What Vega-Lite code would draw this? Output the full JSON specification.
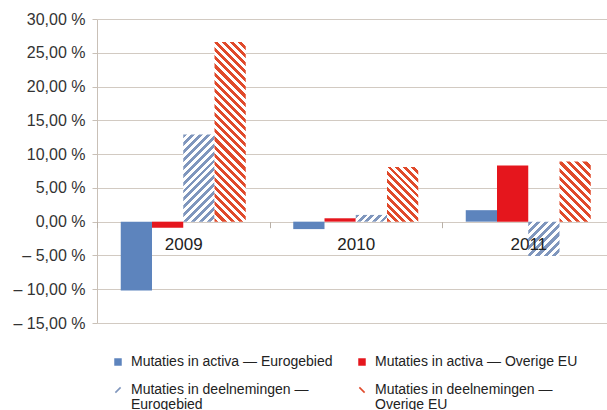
{
  "$schema": "https://vega.github.io/schema/vega-lite/v6.json",
  "width": 517.5,
  "height": 304,
  "autosize": {"type": "none"},
  "padding": {"left": 97, "top": 19, "right": 0, "bottom": 87},
  "background": "white",
  "config": {"font": "Liberation Sans", "view": {"stroke": null}},
  "data": {"values": [
    {"year": "2009", "series": "Mutaties in activa — Eurogebied", "value": -10.2},
    {"year": "2009", "series": "Mutaties in activa — Overige EU", "value": -0.9},
    {"year": "2009", "series": "Mutaties in deelnemingen — Eurogebied", "value": 12.9},
    {"year": "2009", "series": "Mutaties in deelnemingen — Overige EU", "value": 26.6},
    {"year": "2010", "series": "Mutaties in activa — Eurogebied", "value": -1.1},
    {"year": "2010", "series": "Mutaties in activa — Overige EU", "value": 0.5},
    {"year": "2010", "series": "Mutaties in deelnemingen — Eurogebied", "value": 1.0},
    {"year": "2010", "series": "Mutaties in deelnemingen — Overige EU", "value": 8.1},
    {"year": "2011", "series": "Mutaties in activa — Eurogebied", "value": 1.7},
    {"year": "2011", "series": "Mutaties in activa — Overige EU", "value": 8.3},
    {"year": "2011", "series": "Mutaties in deelnemingen — Eurogebied", "value": -5.1},
    {"year": "2011", "series": "Mutaties in deelnemingen — Overige EU", "value": 8.9}
  ]},
  "mark": {"type": "bar"},
  "encoding": {
    "x": {
      "field": "year", "type": "nominal",
      "scale": {"paddingInner": 0, "paddingOuter": 0},
      "axis": {"orient": "bottom", "offset": -101.33, "zindex": 1, "domain": false, "grid": false, "ticks": true, "tickBand": "extent", "tickSize": 6, "tickColor": "#b9b0a6", "labelAngle": 0, "labelFontSize": 17, "labelPadding": 9, "labelColor": "#222222", "title": null}
    },
    "xOffset": {
      "field": "series", "type": "nominal",
      "scale": {"domain": ["Mutaties in activa — Eurogebied", "Mutaties in activa — Overige EU", "Mutaties in deelnemingen — Eurogebied", "Mutaties in deelnemingen — Overige EU"], "paddingInner": 0, "paddingOuter": 0.76}
    },
    "y": {
      "field": "value", "type": "quantitative",
      "scale": {"domain": [-15, 30], "nice": false, "zero": false},
      "axis": {"values": [-15, -10, -5, 0, 5, 10, 15, 20, 25, 30], "labelExpr": "(datum.value < 0 ? '– ' : '') + replace(format(abs(datum.value), '.2f'), '.', ',') + ' %'", "title": null, "labelFontSize": 16, "labelColor": "#333333", "tickSize": 5, "tickColor": "#c9c0b7", "domainColor": "#c9c0b7", "gridColor": "#d2cac2", "labelPadding": 7, "grid": true}
    },
    "fill": {
      "condition": [
        {"test": "datum.series === 'Mutaties in deelnemingen — Eurogebied' && datum.year === '2009'",
         "value": {"gradient": "linear", "x1": 0, "y1": 0, "x2": 0.4317, "y2": 1.2038, "stops": [
          {"offset": 0, "color": "#7f96bd"}, {"offset": 0.0333, "color": "#7f96bd"}, {"offset": 0.0333, "color": "#ffffff"}, {"offset": 0.0667, "color": "#ffffff"},
          {"offset": 0.0667, "color": "#7f96bd"}, {"offset": 0.1, "color": "#7f96bd"}, {"offset": 0.1, "color": "#ffffff"}, {"offset": 0.1333, "color": "#ffffff"},
          {"offset": 0.1333, "color": "#7f96bd"}, {"offset": 0.1667, "color": "#7f96bd"}, {"offset": 0.1667, "color": "#ffffff"}, {"offset": 0.2, "color": "#ffffff"},
          {"offset": 0.2, "color": "#7f96bd"}, {"offset": 0.2333, "color": "#7f96bd"}, {"offset": 0.2333, "color": "#ffffff"}, {"offset": 0.2667, "color": "#ffffff"},
          {"offset": 0.2667, "color": "#7f96bd"}, {"offset": 0.3, "color": "#7f96bd"}, {"offset": 0.3, "color": "#ffffff"}, {"offset": 0.3333, "color": "#ffffff"},
          {"offset": 0.3333, "color": "#7f96bd"}, {"offset": 0.3667, "color": "#7f96bd"}, {"offset": 0.3667, "color": "#ffffff"}, {"offset": 0.4, "color": "#ffffff"},
          {"offset": 0.4, "color": "#7f96bd"}, {"offset": 0.4333, "color": "#7f96bd"}, {"offset": 0.4333, "color": "#ffffff"}, {"offset": 0.4667, "color": "#ffffff"},
          {"offset": 0.4667, "color": "#7f96bd"}, {"offset": 0.5, "color": "#7f96bd"}, {"offset": 0.5, "color": "#ffffff"}, {"offset": 0.5333, "color": "#ffffff"},
          {"offset": 0.5333, "color": "#7f96bd"}, {"offset": 0.5667, "color": "#7f96bd"}, {"offset": 0.5667, "color": "#ffffff"}, {"offset": 0.6, "color": "#ffffff"},
          {"offset": 0.6, "color": "#7f96bd"}, {"offset": 0.6333, "color": "#7f96bd"}, {"offset": 0.6333, "color": "#ffffff"}, {"offset": 0.6667, "color": "#ffffff"},
          {"offset": 0.6667, "color": "#7f96bd"}, {"offset": 0.7, "color": "#7f96bd"}, {"offset": 0.7, "color": "#ffffff"}, {"offset": 0.7333, "color": "#ffffff"},
          {"offset": 0.7333, "color": "#7f96bd"}, {"offset": 0.7667, "color": "#7f96bd"}, {"offset": 0.7667, "color": "#ffffff"}, {"offset": 0.8, "color": "#ffffff"},
          {"offset": 0.8, "color": "#7f96bd"}, {"offset": 0.8333, "color": "#7f96bd"}, {"offset": 0.8333, "color": "#ffffff"}, {"offset": 0.8667, "color": "#ffffff"},
          {"offset": 0.8667, "color": "#7f96bd"}, {"offset": 0.9, "color": "#7f96bd"}, {"offset": 0.9, "color": "#ffffff"}, {"offset": 0.9333, "color": "#ffffff"},
          {"offset": 0.9333, "color": "#7f96bd"}, {"offset": 0.9667, "color": "#7f96bd"}, {"offset": 0.9667, "color": "#ffffff"}, {"offset": 1, "color": "#ffffff"}
         ]}},
        {"test": "datum.series === 'Mutaties in deelnemingen — Eurogebied' && datum.year === '2010'",
         "value": {"gradient": "linear", "x1": 0, "y1": 0, "x2": 1.1619, "y2": 0.2513, "stops": [
          {"offset": 0, "color": "#7f96bd"}, {"offset": 0.1, "color": "#7f96bd"}, {"offset": 0.1, "color": "#ffffff"}, {"offset": 0.2, "color": "#ffffff"},
          {"offset": 0.2, "color": "#7f96bd"}, {"offset": 0.3, "color": "#7f96bd"}, {"offset": 0.3, "color": "#ffffff"}, {"offset": 0.4, "color": "#ffffff"},
          {"offset": 0.4, "color": "#7f96bd"}, {"offset": 0.5, "color": "#7f96bd"}, {"offset": 0.5, "color": "#ffffff"}, {"offset": 0.6, "color": "#ffffff"},
          {"offset": 0.6, "color": "#7f96bd"}, {"offset": 0.7, "color": "#7f96bd"}, {"offset": 0.7, "color": "#ffffff"}, {"offset": 0.8, "color": "#ffffff"},
          {"offset": 0.8, "color": "#7f96bd"}, {"offset": 0.9, "color": "#7f96bd"}, {"offset": 0.9, "color": "#ffffff"}, {"offset": 1, "color": "#ffffff"}
         ]}},
        {"test": "datum.series === 'Mutaties in deelnemingen — Eurogebied' && datum.year === '2011'",
         "value": {"gradient": "linear", "x1": 0, "y1": 0, "x2": 0.949, "y2": 1.0462, "stops": [
          {"offset": 0, "color": "#7f96bd"}, {"offset": 0.0625, "color": "#7f96bd"}, {"offset": 0.0625, "color": "#ffffff"}, {"offset": 0.125, "color": "#ffffff"},
          {"offset": 0.125, "color": "#7f96bd"}, {"offset": 0.1875, "color": "#7f96bd"}, {"offset": 0.1875, "color": "#ffffff"}, {"offset": 0.25, "color": "#ffffff"},
          {"offset": 0.25, "color": "#7f96bd"}, {"offset": 0.3125, "color": "#7f96bd"}, {"offset": 0.3125, "color": "#ffffff"}, {"offset": 0.375, "color": "#ffffff"},
          {"offset": 0.375, "color": "#7f96bd"}, {"offset": 0.4375, "color": "#7f96bd"}, {"offset": 0.4375, "color": "#ffffff"}, {"offset": 0.5, "color": "#ffffff"},
          {"offset": 0.5, "color": "#7f96bd"}, {"offset": 0.5625, "color": "#7f96bd"}, {"offset": 0.5625, "color": "#ffffff"}, {"offset": 0.625, "color": "#ffffff"},
          {"offset": 0.625, "color": "#7f96bd"}, {"offset": 0.6875, "color": "#7f96bd"}, {"offset": 0.6875, "color": "#ffffff"}, {"offset": 0.75, "color": "#ffffff"},
          {"offset": 0.75, "color": "#7f96bd"}, {"offset": 0.8125, "color": "#7f96bd"}, {"offset": 0.8125, "color": "#ffffff"}, {"offset": 0.875, "color": "#ffffff"},
          {"offset": 0.875, "color": "#7f96bd"}, {"offset": 0.9375, "color": "#7f96bd"}, {"offset": 0.9375, "color": "#ffffff"}, {"offset": 1, "color": "#ffffff"}
         ]}},
        {"test": "datum.series === 'Mutaties in deelnemingen — Overige EU' && datum.year === '2009'",
         "value": {"gradient": "linear", "x1": 0, "y1": 1, "x2": 0.19815, "y2": -0.13944, "stops": [
          {"offset": 0, "color": "#e04a2b"}, {"offset": 0.0192, "color": "#e04a2b"}, {"offset": 0.0192, "color": "#ffffff"}, {"offset": 0.0385, "color": "#ffffff"},
          {"offset": 0.0385, "color": "#e04a2b"}, {"offset": 0.0577, "color": "#e04a2b"}, {"offset": 0.0577, "color": "#ffffff"}, {"offset": 0.0769, "color": "#ffffff"},
          {"offset": 0.0769, "color": "#e04a2b"}, {"offset": 0.0962, "color": "#e04a2b"}, {"offset": 0.0962, "color": "#ffffff"}, {"offset": 0.1154, "color": "#ffffff"},
          {"offset": 0.1154, "color": "#e04a2b"}, {"offset": 0.1346, "color": "#e04a2b"}, {"offset": 0.1346, "color": "#ffffff"}, {"offset": 0.1538, "color": "#ffffff"},
          {"offset": 0.1538, "color": "#e04a2b"}, {"offset": 0.1731, "color": "#e04a2b"}, {"offset": 0.1731, "color": "#ffffff"}, {"offset": 0.1923, "color": "#ffffff"},
          {"offset": 0.1923, "color": "#e04a2b"}, {"offset": 0.2115, "color": "#e04a2b"}, {"offset": 0.2115, "color": "#ffffff"}, {"offset": 0.2308, "color": "#ffffff"},
          {"offset": 0.2308, "color": "#e04a2b"}, {"offset": 0.25, "color": "#e04a2b"}, {"offset": 0.25, "color": "#ffffff"}, {"offset": 0.2692, "color": "#ffffff"},
          {"offset": 0.2692, "color": "#e04a2b"}, {"offset": 0.2885, "color": "#e04a2b"}, {"offset": 0.2885, "color": "#ffffff"}, {"offset": 0.3077, "color": "#ffffff"},
          {"offset": 0.3077, "color": "#e04a2b"}, {"offset": 0.3269, "color": "#e04a2b"}, {"offset": 0.3269, "color": "#ffffff"}, {"offset": 0.3462, "color": "#ffffff"},
          {"offset": 0.3462, "color": "#e04a2b"}, {"offset": 0.3654, "color": "#e04a2b"}, {"offset": 0.3654, "color": "#ffffff"}, {"offset": 0.3846, "color": "#ffffff"},
          {"offset": 0.3846, "color": "#e04a2b"}, {"offset": 0.4038, "color": "#e04a2b"}, {"offset": 0.4038, "color": "#ffffff"}, {"offset": 0.4231, "color": "#ffffff"},
          {"offset": 0.4231, "color": "#e04a2b"}, {"offset": 0.4423, "color": "#e04a2b"}, {"offset": 0.4423, "color": "#ffffff"}, {"offset": 0.4615, "color": "#ffffff"},
          {"offset": 0.4615, "color": "#e04a2b"}, {"offset": 0.4808, "color": "#e04a2b"}, {"offset": 0.4808, "color": "#ffffff"}, {"offset": 0.5, "color": "#ffffff"},
          {"offset": 0.5, "color": "#e04a2b"}, {"offset": 0.5192, "color": "#e04a2b"}, {"offset": 0.5192, "color": "#ffffff"}, {"offset": 0.5385, "color": "#ffffff"},
          {"offset": 0.5385, "color": "#e04a2b"}, {"offset": 0.5577, "color": "#e04a2b"}, {"offset": 0.5577, "color": "#ffffff"}, {"offset": 0.5769, "color": "#ffffff"},
          {"offset": 0.5769, "color": "#e04a2b"}, {"offset": 0.5962, "color": "#e04a2b"}, {"offset": 0.5962, "color": "#ffffff"}, {"offset": 0.6154, "color": "#ffffff"},
          {"offset": 0.6154, "color": "#e04a2b"}, {"offset": 0.6346, "color": "#e04a2b"}, {"offset": 0.6346, "color": "#ffffff"}, {"offset": 0.6538, "color": "#ffffff"},
          {"offset": 0.6538, "color": "#e04a2b"}, {"offset": 0.6731, "color": "#e04a2b"}, {"offset": 0.6731, "color": "#ffffff"}, {"offset": 0.6923, "color": "#ffffff"},
          {"offset": 0.6923, "color": "#e04a2b"}, {"offset": 0.7115, "color": "#e04a2b"}, {"offset": 0.7115, "color": "#ffffff"}, {"offset": 0.7308, "color": "#ffffff"},
          {"offset": 0.7308, "color": "#e04a2b"}, {"offset": 0.75, "color": "#e04a2b"}, {"offset": 0.75, "color": "#ffffff"}, {"offset": 0.7692, "color": "#ffffff"},
          {"offset": 0.7692, "color": "#e04a2b"}, {"offset": 0.7885, "color": "#e04a2b"}, {"offset": 0.7885, "color": "#ffffff"}, {"offset": 0.8077, "color": "#ffffff"},
          {"offset": 0.8077, "color": "#e04a2b"}, {"offset": 0.8269, "color": "#e04a2b"}, {"offset": 0.8269, "color": "#ffffff"}, {"offset": 0.8462, "color": "#ffffff"},
          {"offset": 0.8462, "color": "#e04a2b"}, {"offset": 0.8654, "color": "#e04a2b"}, {"offset": 0.8654, "color": "#ffffff"}, {"offset": 0.8846, "color": "#ffffff"},
          {"offset": 0.8846, "color": "#e04a2b"}, {"offset": 0.9038, "color": "#e04a2b"}, {"offset": 0.9038, "color": "#ffffff"}, {"offset": 0.9231, "color": "#ffffff"},
          {"offset": 0.9231, "color": "#e04a2b"}, {"offset": 0.9423, "color": "#e04a2b"}, {"offset": 0.9423, "color": "#ffffff"}, {"offset": 0.9615, "color": "#ffffff"},
          {"offset": 0.9615, "color": "#e04a2b"}, {"offset": 0.9808, "color": "#e04a2b"}, {"offset": 0.9808, "color": "#ffffff"}, {"offset": 1, "color": "#ffffff"}
         ]}},
        {"test": "datum.series === 'Mutaties in deelnemingen — Overige EU' && datum.year === '2010'",
         "value": {"gradient": "linear", "x1": 0, "y1": 1, "x2": 0.6766, "y2": -0.1847, "stops": [
          {"offset": 0, "color": "#e04a2b"}, {"offset": 0.0455, "color": "#e04a2b"}, {"offset": 0.0455, "color": "#ffffff"}, {"offset": 0.0909, "color": "#ffffff"},
          {"offset": 0.0909, "color": "#e04a2b"}, {"offset": 0.1364, "color": "#e04a2b"}, {"offset": 0.1364, "color": "#ffffff"}, {"offset": 0.1818, "color": "#ffffff"},
          {"offset": 0.1818, "color": "#e04a2b"}, {"offset": 0.2273, "color": "#e04a2b"}, {"offset": 0.2273, "color": "#ffffff"}, {"offset": 0.2727, "color": "#ffffff"},
          {"offset": 0.2727, "color": "#e04a2b"}, {"offset": 0.3182, "color": "#e04a2b"}, {"offset": 0.3182, "color": "#ffffff"}, {"offset": 0.3636, "color": "#ffffff"},
          {"offset": 0.3636, "color": "#e04a2b"}, {"offset": 0.4091, "color": "#e04a2b"}, {"offset": 0.4091, "color": "#ffffff"}, {"offset": 0.4545, "color": "#ffffff"},
          {"offset": 0.4545, "color": "#e04a2b"}, {"offset": 0.5, "color": "#e04a2b"}, {"offset": 0.5, "color": "#ffffff"}, {"offset": 0.5455, "color": "#ffffff"},
          {"offset": 0.5455, "color": "#e04a2b"}, {"offset": 0.5909, "color": "#e04a2b"}, {"offset": 0.5909, "color": "#ffffff"}, {"offset": 0.6364, "color": "#ffffff"},
          {"offset": 0.6364, "color": "#e04a2b"}, {"offset": 0.6818, "color": "#e04a2b"}, {"offset": 0.6818, "color": "#ffffff"}, {"offset": 0.7273, "color": "#ffffff"},
          {"offset": 0.7273, "color": "#e04a2b"}, {"offset": 0.7727, "color": "#e04a2b"}, {"offset": 0.7727, "color": "#ffffff"}, {"offset": 0.8182, "color": "#ffffff"},
          {"offset": 0.8182, "color": "#e04a2b"}, {"offset": 0.8636, "color": "#e04a2b"}, {"offset": 0.8636, "color": "#ffffff"}, {"offset": 0.9091, "color": "#ffffff"},
          {"offset": 0.9091, "color": "#e04a2b"}, {"offset": 0.9545, "color": "#e04a2b"}, {"offset": 0.9545, "color": "#ffffff"}, {"offset": 1, "color": "#ffffff"}
         ]}},
        {"test": "datum.series === 'Mutaties in deelnemingen — Overige EU' && datum.year === '2011'",
         "value": {"gradient": "linear", "x1": 0, "y1": 1, "x2": 0.6219, "y2": -0.1965, "stops": [
          {"offset": 0, "color": "#e04a2b"}, {"offset": 0.0455, "color": "#e04a2b"}, {"offset": 0.0455, "color": "#ffffff"}, {"offset": 0.0909, "color": "#ffffff"},
          {"offset": 0.0909, "color": "#e04a2b"}, {"offset": 0.1364, "color": "#e04a2b"}, {"offset": 0.1364, "color": "#ffffff"}, {"offset": 0.1818, "color": "#ffffff"},
          {"offset": 0.1818, "color": "#e04a2b"}, {"offset": 0.2273, "color": "#e04a2b"}, {"offset": 0.2273, "color": "#ffffff"}, {"offset": 0.2727, "color": "#ffffff"},
          {"offset": 0.2727, "color": "#e04a2b"}, {"offset": 0.3182, "color": "#e04a2b"}, {"offset": 0.3182, "color": "#ffffff"}, {"offset": 0.3636, "color": "#ffffff"},
          {"offset": 0.3636, "color": "#e04a2b"}, {"offset": 0.4091, "color": "#e04a2b"}, {"offset": 0.4091, "color": "#ffffff"}, {"offset": 0.4545, "color": "#ffffff"},
          {"offset": 0.4545, "color": "#e04a2b"}, {"offset": 0.5, "color": "#e04a2b"}, {"offset": 0.5, "color": "#ffffff"}, {"offset": 0.5455, "color": "#ffffff"},
          {"offset": 0.5455, "color": "#e04a2b"}, {"offset": 0.5909, "color": "#e04a2b"}, {"offset": 0.5909, "color": "#ffffff"}, {"offset": 0.6364, "color": "#ffffff"},
          {"offset": 0.6364, "color": "#e04a2b"}, {"offset": 0.6818, "color": "#e04a2b"}, {"offset": 0.6818, "color": "#ffffff"}, {"offset": 0.7273, "color": "#ffffff"},
          {"offset": 0.7273, "color": "#e04a2b"}, {"offset": 0.7727, "color": "#e04a2b"}, {"offset": 0.7727, "color": "#ffffff"}, {"offset": 0.8182, "color": "#ffffff"},
          {"offset": 0.8182, "color": "#e04a2b"}, {"offset": 0.8636, "color": "#e04a2b"}, {"offset": 0.8636, "color": "#ffffff"}, {"offset": 0.9091, "color": "#ffffff"},
          {"offset": 0.9091, "color": "#e04a2b"}, {"offset": 0.9545, "color": "#e04a2b"}, {"offset": 0.9545, "color": "#ffffff"}, {"offset": 1, "color": "#ffffff"}
         ]}}
      ],
      "field": "series", "type": "nominal",
      "scale": {
        "domain": ["Mutaties in activa — Eurogebied", "Mutaties in activa — Overige EU", "Mutaties in deelnemingen — Eurogebied", "Mutaties in deelnemingen — Overige EU"],
        "range": ["#5d84bd", "#e5161d", "#7f96bd", "#e04a2b"]
      },
      "legend": {
        "orient": "none", "legendX": 14, "legendY": 336, "columns": 2, "direction": "horizontal", "title": null,
        "labelFontSize": 14, "labelColor": "#222222", "labelLimit": 400, "labelOffset": 6,
        "symbolType": "square", "symbolSize": 56, "symbolStrokeWidth": 0,
        "columnPadding": 22, "rowPadding": 14,
        "labelExpr": "indexof(datum.label, 'deelnemingen') >= 0 ? split(replace(datum.label, '— ', '—|'), '|') : datum.label",
        "encode": {
          "labels": {"update": {"lineHeight": {"value": 14.5}}},
          "symbols": {"update": {"shape": {"signal": "datum.value === 'Mutaties in deelnemingen — Eurogebied' ? 'M-0.85,0.55L0.55,-0.85L0.85,-0.55L-0.55,0.85Z' : datum.value === 'Mutaties in deelnemingen — Overige EU' ? 'M-0.85,-0.55L-0.55,-0.85L0.85,0.55L0.55,0.85Z' : 'square'"}}}
        }
      }
    }
  }
}
